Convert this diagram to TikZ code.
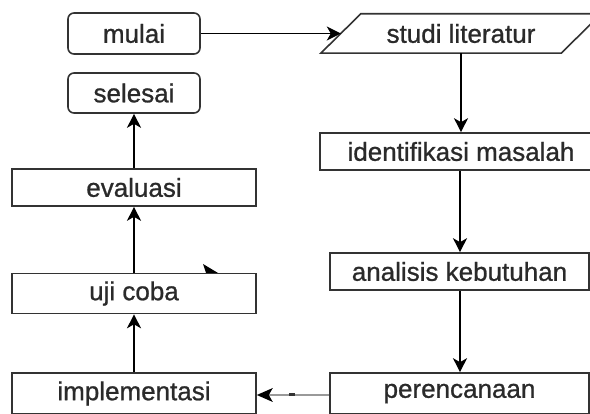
\documentclass[tikz,border=0pt]{standalone}
\usepackage{fontspec}
\setmainfont{Liberation Sans}
\newfontfamily\heavyfont{Liberation Sans}[FakeBold=0.9]
\usetikzlibrary{arrows.meta}
\definecolor{edgegray}{HTML}{333333}
\definecolor{txtgray}{HTML}{2A2A2A}
\definecolor{linkgray}{HTML}{999999}
\begin{document}
\begin{tikzpicture}[x=1pt,y=-1pt,
  labelfont/.style={font=\heavyfont\fontsize{26}{30}\selectfont, text=txtgray},
  box/.style={draw=edgegray, line width=1.6pt, inner sep=0pt, labelfont, anchor=center},
  term/.style={box, rounded corners=6pt},
  plain/.style={box},
  conn/.style={line width=1.5pt, draw=black, -{Stealth[length=14pt,width=14pt,inset=4pt]}}
]
\useasboundingbox (0,0) rectangle (590,414);
% left column
\node[term, minimum width=132pt, minimum height=41pt] (mulai) at (134,33.5) {mulai};
\node[term, minimum width=132pt, minimum height=40pt] (selesai) at (134,93) {selesai};
\node[plain, minimum width=244pt, minimum height=37pt] (eval) at (134,187.5) {evaluasi};
\node[plain, minimum width=244pt, minimum height=40pt] (uji) at (134,293.5) {uji coba};
\node[plain, minimum width=244pt, minimum height=41pt] (impl) at (134,393.5) {implementasi};
% right column
\node[inner sep=0pt, labelfont,
  minimum width=240pt, minimum height=39pt] (studi) at (461,33.5) {studi literatur};
\draw[edgegray, line width=1.6pt]
  ([xshift=20pt]studi.north west) -- ([xshift=20pt]studi.north east)
  -- ([xshift=-20pt]studi.south east) -- ([xshift=-20pt]studi.south west) -- cycle;
\node[plain, minimum width=282pt, minimum height=37pt] (ident) at (461,151.5) {identifikasi masalah};
\node[plain, minimum width=259pt, minimum height=37pt] (anal) at (459.5,271.5) {analisis kebutuhan};
\node[plain, minimum width=259pt, minimum height=41pt] (renc) at (459.5,393.5) {perencanaan};
% connectors
\draw[conn] (mulai.east) -- (studi.west);
\draw[conn] (studi.south) ++(0,0) coordinate (s1) -- (s1 |- ident.north);
\draw[conn] (ident.south) ++(-1,0) coordinate (s2) -- (s2 |- anal.north);
\draw[conn] (anal.south) ++(0.5,0) coordinate (s3) -- (s3 |- renc.north);
\draw[conn] (impl.north) -- (uji.south);
\draw[conn] (uji.north) -- (eval.south);
\draw[conn] (eval.north) -- (selesai.south);
% gray connector perencanaan -> implementasi
\coordinate (r1) at (renc.west |- 0,395);
\coordinate (i1) at (impl.east |- 0,395);
\draw[linkgray, line width=2.2pt] (r1) -- ([xshift=12pt]i1);
\fill[black] (i1) -- ++(16pt,-7pt) -- ++(-4pt,7pt) -- ++(4pt,7pt) -- cycle;
\fill[black!80] (289,393.5) rectangle (295,396.5);
% stray arrowhead fragment
\fill[black] (203,264) -- (218,273) -- (206,273) -- cycle;
\end{tikzpicture}
\end{document}
